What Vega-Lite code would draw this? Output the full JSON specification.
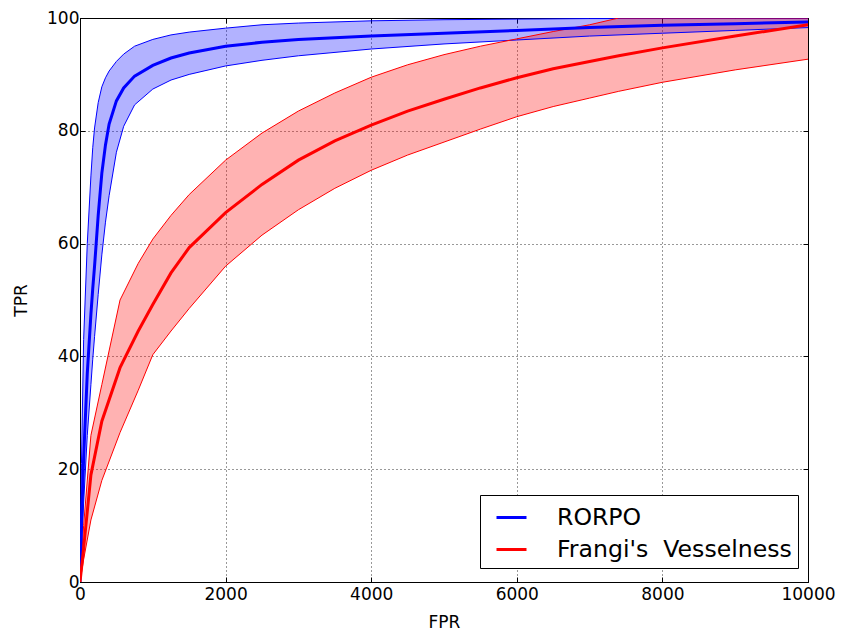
{
  "$schema": "https://vega.github.io/schema/vega-lite/v6.json",
  "autosize": {"type": "none"},
  "width": 728,
  "height": 564,
  "padding": {"left": 80, "top": 18, "right": 35, "bottom": 53},
  "config": {
    "font": "DejaVu Sans",
    "view": {"stroke": "#000000", "strokeWidth": 1},
    "axis": {"labelFont": "DejaVu Sans", "titleFont": "DejaVu Sans", "labelColor": "#000000", "titleColor": "#000000", "domainColor": "#000000", "tickColor": "#000000"}
  },
  "datasets": {
    "rorpo": [
      {"series": "RORPO", "fpr": 0, "lo": 0, "mean": 0, "hi": 0},
      {"series": "RORPO", "fpr": 20, "lo": 6, "mean": 10, "hi": 21},
      {"series": "RORPO", "fpr": 50, "lo": 14, "mean": 22, "hi": 43},
      {"series": "RORPO", "fpr": 100, "lo": 26, "mean": 37, "hi": 60},
      {"series": "RORPO", "fpr": 150, "lo": 35, "mean": 47.5, "hi": 72},
      {"series": "RORPO", "fpr": 175, "lo": 39.5, "mean": 52, "hi": 77},
      {"series": "RORPO", "fpr": 200, "lo": 43.5, "mean": 56, "hi": 80.5},
      {"series": "RORPO", "fpr": 250, "lo": 51, "mean": 65, "hi": 85},
      {"series": "RORPO", "fpr": 300, "lo": 58, "mean": 72.5, "hi": 87.8},
      {"series": "RORPO", "fpr": 350, "lo": 63.8, "mean": 77.5, "hi": 89.4},
      {"series": "RORPO", "fpr": 400, "lo": 68.5, "mean": 81.2, "hi": 90.6},
      {"series": "RORPO", "fpr": 500, "lo": 76.2, "mean": 85.3, "hi": 92.3},
      {"series": "RORPO", "fpr": 600, "lo": 80.8, "mean": 87.6, "hi": 93.6},
      {"series": "RORPO", "fpr": 750, "lo": 84.6, "mean": 89.7, "hi": 95},
      {"series": "RORPO", "fpr": 1000, "lo": 87.4, "mean": 91.6, "hi": 96.2},
      {"series": "RORPO", "fpr": 1250, "lo": 89, "mean": 92.9, "hi": 97},
      {"series": "RORPO", "fpr": 1500, "lo": 90, "mean": 93.8, "hi": 97.5},
      {"series": "RORPO", "fpr": 2000, "lo": 91.5, "mean": 95, "hi": 98.2},
      {"series": "RORPO", "fpr": 2500, "lo": 92.5, "mean": 95.7, "hi": 98.8},
      {"series": "RORPO", "fpr": 3000, "lo": 93.3, "mean": 96.2, "hi": 99.1},
      {"series": "RORPO", "fpr": 4000, "lo": 94.5, "mean": 96.8, "hi": 99.5},
      {"series": "RORPO", "fpr": 5000, "lo": 95.4, "mean": 97.3, "hi": 99.7},
      {"series": "RORPO", "fpr": 6000, "lo": 96.1, "mean": 97.8, "hi": 99.8},
      {"series": "RORPO", "fpr": 7000, "lo": 96.8, "mean": 98.3, "hi": 99.9},
      {"series": "RORPO", "fpr": 8000, "lo": 97.3, "mean": 98.7, "hi": 99.9},
      {"series": "RORPO", "fpr": 9000, "lo": 97.8, "mean": 99, "hi": 99.9},
      {"series": "RORPO", "fpr": 10000, "lo": 98.3, "mean": 99.3, "hi": 99.9}
    ],
    "frangi": [
      {"series": "Frangi's  Vesselness", "fpr": 0, "lo": 0, "mean": 0, "hi": 0},
      {"series": "Frangi's  Vesselness", "fpr": 50, "lo": 4, "mean": 6, "hi": 10},
      {"series": "Frangi's  Vesselness", "fpr": 150, "lo": 11, "mean": 19, "hi": 26},
      {"series": "Frangi's  Vesselness", "fpr": 300, "lo": 18, "mean": 28.5, "hi": 35},
      {"series": "Frangi's  Vesselness", "fpr": 550, "lo": 26.5, "mean": 38, "hi": 50},
      {"series": "Frangi's  Vesselness", "fpr": 800, "lo": 34, "mean": 44.5, "hi": 56.5},
      {"series": "Frangi's  Vesselness", "fpr": 1000, "lo": 40.3, "mean": 49.2, "hi": 60.8},
      {"series": "Frangi's  Vesselness", "fpr": 1250, "lo": 44.5, "mean": 54.8, "hi": 65},
      {"series": "Frangi's  Vesselness", "fpr": 1500, "lo": 48.5, "mean": 59.3, "hi": 68.7},
      {"series": "Frangi's  Vesselness", "fpr": 2000, "lo": 56, "mean": 65.5, "hi": 74.8},
      {"series": "Frangi's  Vesselness", "fpr": 2500, "lo": 61.5, "mean": 70.5, "hi": 79.6},
      {"series": "Frangi's  Vesselness", "fpr": 3000, "lo": 66, "mean": 74.8, "hi": 83.5},
      {"series": "Frangi's  Vesselness", "fpr": 3500, "lo": 69.8, "mean": 78.2, "hi": 86.7},
      {"series": "Frangi's  Vesselness", "fpr": 4000, "lo": 73, "mean": 81, "hi": 89.5},
      {"series": "Frangi's  Vesselness", "fpr": 4500, "lo": 75.7, "mean": 83.5, "hi": 91.7},
      {"series": "Frangi's  Vesselness", "fpr": 5000, "lo": 78, "mean": 85.6, "hi": 93.5},
      {"series": "Frangi's  Vesselness", "fpr": 5500, "lo": 80.3, "mean": 87.6, "hi": 95},
      {"series": "Frangi's  Vesselness", "fpr": 6000, "lo": 82.5, "mean": 89.4, "hi": 96.3},
      {"series": "Frangi's  Vesselness", "fpr": 6500, "lo": 84.3, "mean": 91, "hi": 97.6},
      {"series": "Frangi's  Vesselness", "fpr": 7000, "lo": 85.8, "mean": 92.3, "hi": 98.8},
      {"series": "Frangi's  Vesselness", "fpr": 7400, "lo": 87, "mean": 93.3, "hi": 100},
      {"series": "Frangi's  Vesselness", "fpr": 8000, "lo": 88.6, "mean": 94.7, "hi": 100},
      {"series": "Frangi's  Vesselness", "fpr": 9000, "lo": 90.8, "mean": 96.8, "hi": 100},
      {"series": "Frangi's  Vesselness", "fpr": 10000, "lo": 92.7, "mean": 98.8, "hi": 100}
    ]
  },
  "resolve": {"axis": {"x": "independent", "y": "independent"}},
  "layer": [
    {
      "data": {"name": "rorpo"},
      "mark": {"type": "area", "color": "#0000ff", "opacity": 0.3, "clip": true},
      "encoding": {
        "x": {"field": "fpr", "type": "quantitative", "scale": {"domain": [0, 10000], "nice": false, "zero": false},
          "axis": {"title": "FPR", "titleFontSize": 17, "titleFontWeight": "normal", "titlePadding": 12, "labelFontSize": 17, "labelPadding": 9, "format": "d", "values": [0, 2000, 4000, 6000, 8000, 10000], "tickSize": -5, "grid": true, "gridColor": "#000000", "gridDash": [1, 3], "gridOpacity": 0.8, "labelFlush": false}},
        "y": {"field": "lo", "type": "quantitative", "scale": {"domain": [0, 100], "nice": false},
          "axis": {"title": "TPR", "titleFontSize": 17, "titleFontWeight": "normal", "titlePadding": 16, "labelFontSize": 17, "labelPadding": 6, "values": [0, 20, 40, 60, 80, 100], "tickSize": -5, "grid": true, "gridColor": "#000000", "gridDash": [1, 3], "gridOpacity": 0.8, "labelFlush": false}},
        "y2": {"field": "hi"}
      }
    },
    {
      "data": {"name": "frangi"},
      "mark": {"type": "area", "color": "#ff0000", "opacity": 0.3, "clip": true},
      "encoding": {
        "x": {"field": "fpr", "type": "quantitative", "axis": null},
        "y": {"field": "lo", "type": "quantitative", "axis": null},
        "y2": {"field": "hi"}
      }
    },
    {
      "data": {"name": "rorpo"},
      "mark": {"type": "line", "color": "#0000ff", "strokeWidth": 1, "clip": true},
      "encoding": {
        "x": {"field": "fpr", "type": "quantitative", "axis": null},
        "y": {"field": "lo", "type": "quantitative", "axis": null}
      }
    },
    {
      "data": {"name": "rorpo"},
      "mark": {"type": "line", "color": "#0000ff", "strokeWidth": 1, "clip": true},
      "encoding": {
        "x": {"field": "fpr", "type": "quantitative", "axis": null},
        "y": {"field": "hi", "type": "quantitative", "axis": null}
      }
    },
    {
      "data": {"name": "frangi"},
      "mark": {"type": "line", "color": "#ff0000", "strokeWidth": 1, "clip": true},
      "encoding": {
        "x": {"field": "fpr", "type": "quantitative", "axis": null},
        "y": {"field": "lo", "type": "quantitative", "axis": null}
      }
    },
    {
      "data": {"name": "frangi"},
      "mark": {"type": "line", "color": "#ff0000", "strokeWidth": 1, "clip": true},
      "encoding": {
        "x": {"field": "fpr", "type": "quantitative", "axis": null},
        "y": {"field": "hi", "type": "quantitative", "axis": null}
      }
    },
    {
      "data": {"name": "rorpo"},
      "mark": {"type": "line", "strokeWidth": 3, "clip": true},
      "encoding": {
        "x": {"field": "fpr", "type": "quantitative", "axis": null},
        "y": {"field": "mean", "type": "quantitative", "axis": null},
        "color": {"field": "series", "type": "nominal",
          "scale": {"domain": ["RORPO", "Frangi's  Vesselness"], "range": ["#0000ff", "#ff0000"]},
          "legend": {"title": null, "orient": "none", "legendX": 400, "legendY": 477, "symbolType": "stroke", "symbolSize": 900, "symbolStrokeWidth": 3, "labelFontSize": 23.6, "labelFont": "DejaVu Sans", "labelColor": "#000000", "labelLimit": 0, "labelOffset": 29, "symbolOffset": 9, "rowPadding": 3, "padding": 6, "strokeColor": "#000000", "fillColor": "#ffffff", "cornerRadius": 0, "labelExpr": "replace(datum.label, '  ', '\u00a0\u00a0')"}}
      }
    },
    {
      "data": {"name": "frangi"},
      "mark": {"type": "line", "strokeWidth": 3, "clip": true},
      "encoding": {
        "x": {"field": "fpr", "type": "quantitative",
          "axis": {"orient": "top", "title": null, "labels": false, "domain": false, "grid": false, "tickSize": -5, "values": [0, 2000, 4000, 6000, 8000, 10000]}},
        "y": {"field": "mean", "type": "quantitative",
          "axis": {"orient": "right", "title": null, "labels": false, "domain": false, "grid": false, "tickSize": -5, "values": [0, 20, 40, 60, 80, 100]}},
        "color": {"field": "series", "type": "nominal"}
      }
    }
  ]
}
